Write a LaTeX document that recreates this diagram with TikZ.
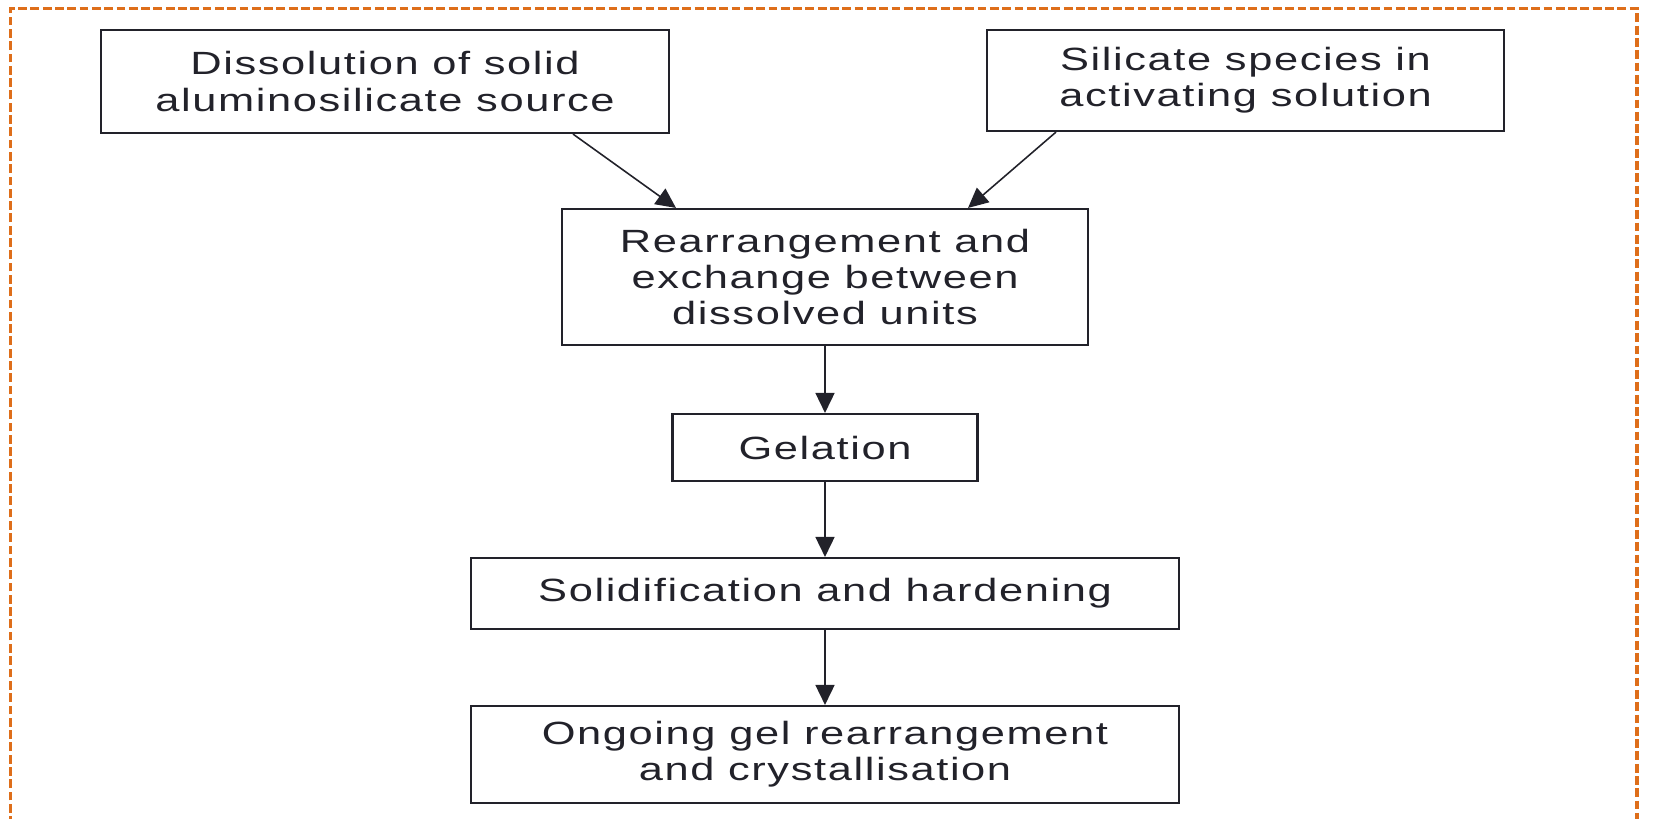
\documentclass[tikz,border=0pt]{standalone}
\usepackage{fontspec}
\setmainfont{Liberation Sans}[FakeStretch=1.35,LetterSpace=5]
\usetikzlibrary{arrows.meta}
\definecolor{frameorange}{RGB}{222,110,26}
\definecolor{inkgray}{RGB}{34,34,42}

\begin{document}
\begin{tikzpicture}[
    stepbox/.style={draw=inkgray, line width=1.2pt, text=inkgray, align=center, inner sep=0pt,
        font=\fontsize{18.3pt}{20.5pt}\selectfont},
    flow/.style={-{Triangle[length=0.40cm,width=0.38cm]}, draw=inkgray, line width=0.9pt},
    frameline/.style={draw=frameorange, line width=1.8pt, dash pattern=on 5pt off 2pt}
]
    \useasboundingbox (0cm, 0cm) rectangle (33.28cm, -16.36cm);

    \coordinate (fbl) at (0.21cm, -16.50cm);
    \coordinate (ftl) at (0.21cm, -0.17cm);
    \coordinate (ftr) at (32.74cm, -0.17cm);
    \coordinate (fbr) at (32.74cm, -16.50cm);

    \node (diss) [stepbox, minimum width=11.36cm, minimum height=2.06cm] at (7.70cm, -1.63cm) {Dissolution of solid\\aluminosilicate source};
    \node (silic) [stepbox, minimum width=10.34cm, minimum height=2.02cm] at (24.91cm, -1.61cm) {Silicate species in\\activating solution};
    \node (rearr) [stepbox, minimum width=10.52cm, minimum height=2.72cm] at (16.50cm, -5.54cm) {Rearrangement and\\exchange between\\dissolved units};
    \node (gel) [stepbox, minimum width=6.10cm, minimum height=1.34cm] at (16.50cm, -8.95cm) {Gelation};
    \node (solid) [stepbox, minimum width=14.16cm, minimum height=1.42cm] at (16.50cm, -11.87cm) {Solidification and hardening};
    \node (ongo) [stepbox, minimum width=14.16cm, minimum height=1.94cm] at (16.50cm, -15.09cm) {Ongoing gel rearrangement\\and crystallisation};

    \draw[frameline] (fbl) -- (ftl) -- (ftr) -- (fbr);

    \draw ([xshift=3.76cm]diss.south) edge[flow] ([xshift=-2.98cm]rearr.north);
    \draw ([xshift=-3.79cm]silic.south) edge[flow] ([xshift=2.86cm]rearr.north);
    \draw (rearr) edge[flow] (gel);
    \draw (gel) edge[flow] (solid);
    \draw (solid) edge[flow] (ongo);
\end{tikzpicture}
\end{document}
